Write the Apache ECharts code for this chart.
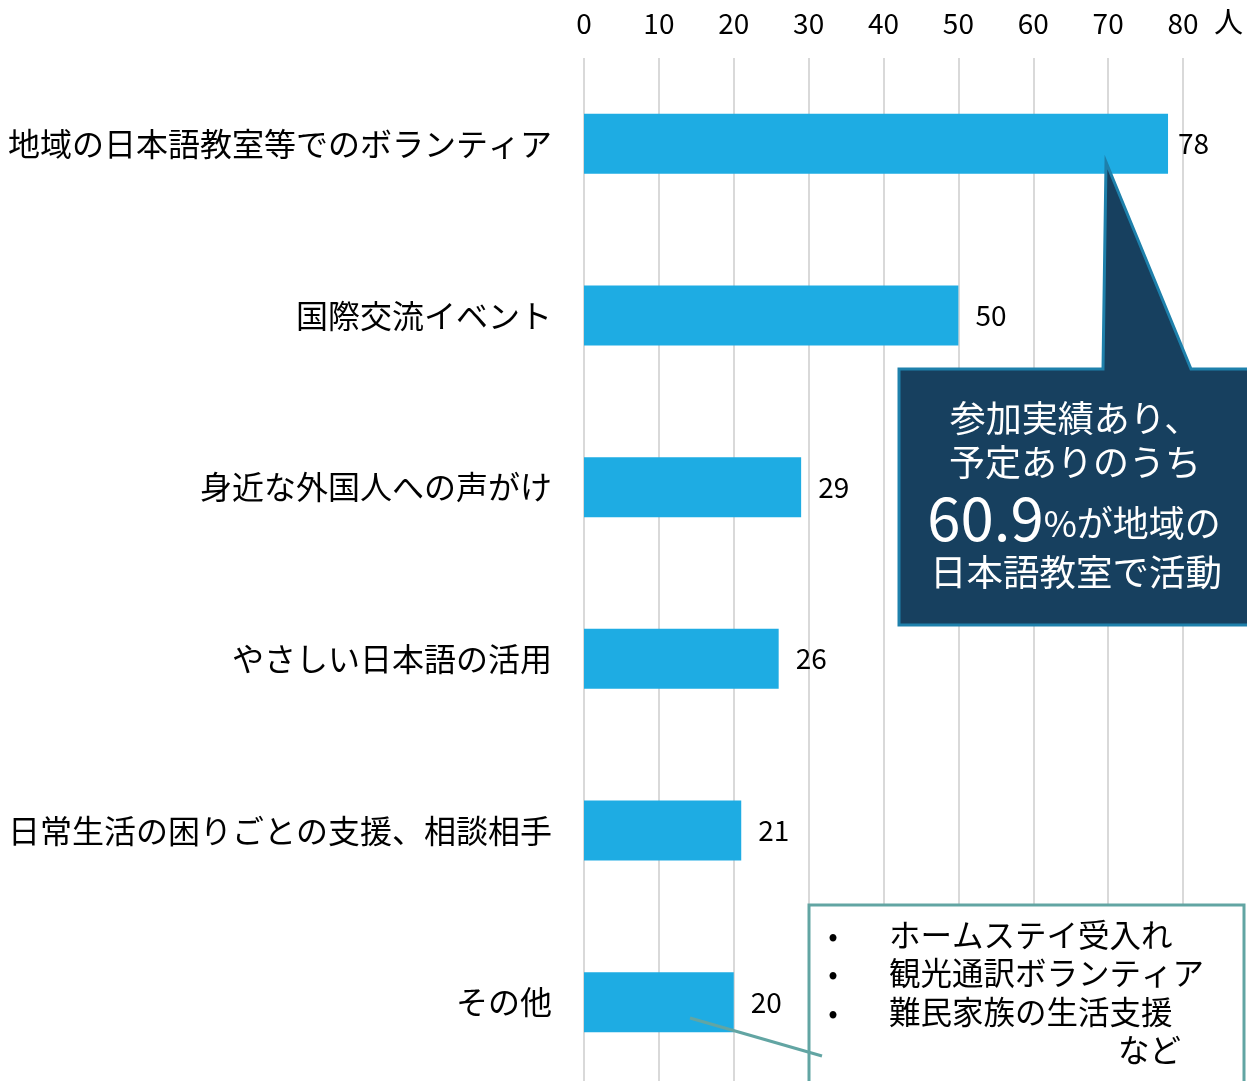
<!DOCTYPE html>
<html>
<head>
<meta charset="utf-8">
<script src="https://cdn.jsdelivr.net/npm/echarts@6/dist/echarts.min.js"></script>
<style>
  html, body { margin: 0; padding: 0; background: #fff; }
  #chart { width: 1247px; height: 1081px; }
</style>
</head>
<body>
<div id="chart"></div>
<script>
// Activities of participants (count of people)
var categories = [
  '地域の日本語教室等でのボランティア',
  '国際交流イベント',
  '身近な外国人への声がけ',
  'やさしい日本語の活用',
  '日常生活の困りごとの支援、相談相手',
  'その他'
];
var counts = [78, 50, 29, 26, 21, 20];
var axisMax = 80;
var axisStep = 10;
var unitLabel = '人';

var calloutLines = ['参加実績あり、', '予定ありのうち'];
var calloutRate = '60.9';
var calloutRest = '%が地域の';
var calloutLast = '日本語教室で活動';

var otherItems = ['ホームステイ受入れ', '観光通訳ボランティア', '難民家族の生活支援'];
var otherTail = 'など';

var FONT = '"Noto Sans CJK JP", "Noto Sans", sans-serif';
var BAR = '#1EACE3';
var NAVY = '#17405F';
var NAVY_EDGE = '#1E80AB';
var TEAL = '#62A5A3';

var chart = echarts.init(document.getElementById('chart'), null, { renderer: 'canvas' });

var graphics = [
  { type: 'text', left: 1214, top: 7, z: 10,
    style: { text: unitLabel, font: '29px ' + FONT, fill: '#000' } },
  // dark callout with pointer toward the top bar
  { type: 'polygon', z: 10,
    shape: { points: [[899, 369], [1103, 369], [1106, 162], [1191, 369], [1262, 369], [1262, 625], [899, 625]] },
    style: { fill: NAVY, stroke: NAVY_EDGE, lineWidth: 3 } },
  { type: 'text', x: 1075, y: 418, z: 11,
    style: { text: calloutLines[0], font: '36px ' + FONT, fill: '#fff', align: 'center', verticalAlign: 'middle' } },
  { type: 'text', x: 1075, y: 462, z: 11,
    style: { text: calloutLines[1], font: '36px ' + FONT, fill: '#fff', align: 'center', verticalAlign: 'middle' } },
  { type: 'text', x: 1074, y: 518, z: 11,
    style: {
      text: '{big|' + calloutRate + '}{mid|' + calloutRest + '}',
      align: 'center', verticalAlign: 'middle',
      rich: {
        big: { fontFamily: FONT, fontSize: 60, fill: '#fff', color: '#fff' },
        mid: { fontFamily: FONT, fontSize: 36, fill: '#fff', color: '#fff', padding: [10, 0, 0, 0] }
      }
    } },
  { type: 'text', x: 1076, y: 572, z: 11,
    style: { text: calloutLast, font: '36.5px ' + FONT, fill: '#fff', align: 'center', verticalAlign: 'middle' } },
  // note box for the "other" category
  { type: 'rect', z: 10,
    shape: { x: 809, y: 905, width: 435, height: 200 },
    style: { fill: '#fff', stroke: TEAL, lineWidth: 3 } },
  { type: 'line', z: 12,
    shape: { x1: 690, y1: 1018, x2: 822, y2: 1056 },
    style: { stroke: TEAL, lineWidth: 3 } }
];

var itemY = [935, 973, 1012];
otherItems.forEach(function (t, i) {
  graphics.push({ type: 'text', x: 833, y: itemY[i], z: 11,
    style: { text: '•', font: '28px ' + FONT, fill: '#000', align: 'center', verticalAlign: 'middle' } });
  graphics.push({ type: 'text', x: 889, y: itemY[i], z: 11,
    style: { text: t, font: '31.5px ' + FONT, fill: '#000', align: 'left', verticalAlign: 'middle' } });
});
graphics.push({ type: 'text', x: 1181, y: 1050, z: 11,
  style: { text: otherTail, font: '31.5px ' + FONT, fill: '#000', align: 'right', verticalAlign: 'middle' } });

chart.setOption({
  animation: false,
  backgroundColor: '#fff',
  textStyle: { fontFamily: FONT },
  grid: { left: 584, right: 64, top: 58, height: 1030, containLabel: false, outerBoundsMode: 'none' },
  xAxis: {
    type: 'value',
    position: 'top',
    min: 0,
    max: axisMax,
    interval: axisStep,
    axisLine: { show: false },
    axisTick: { show: false },
    axisLabel: { fontSize: 28, color: '#000', margin: 21, fontFamily: FONT },
    splitLine: { show: true, lineStyle: { color: '#d9d9d9', width: 2 } }
  },
  yAxis: {
    type: 'category',
    inverse: true,
    data: categories,
    axisLine: { show: false },
    axisTick: { show: false },
    axisLabel: { fontSize: 32, color: '#000', margin: 32, fontFamily: FONT }
  },
  series: [{
    type: 'bar',
    data: counts.map(function (v, i) {
      return i === 0 ? { value: v, label: { distance: 10 } } : v;
    }),
    barWidth: 60,
    itemStyle: { color: BAR },
    label: { show: true, position: 'right', distance: 17, fontSize: 28, color: '#000', fontFamily: FONT }
  }],
  graphic: graphics
});
</script>
</body>
</html>
